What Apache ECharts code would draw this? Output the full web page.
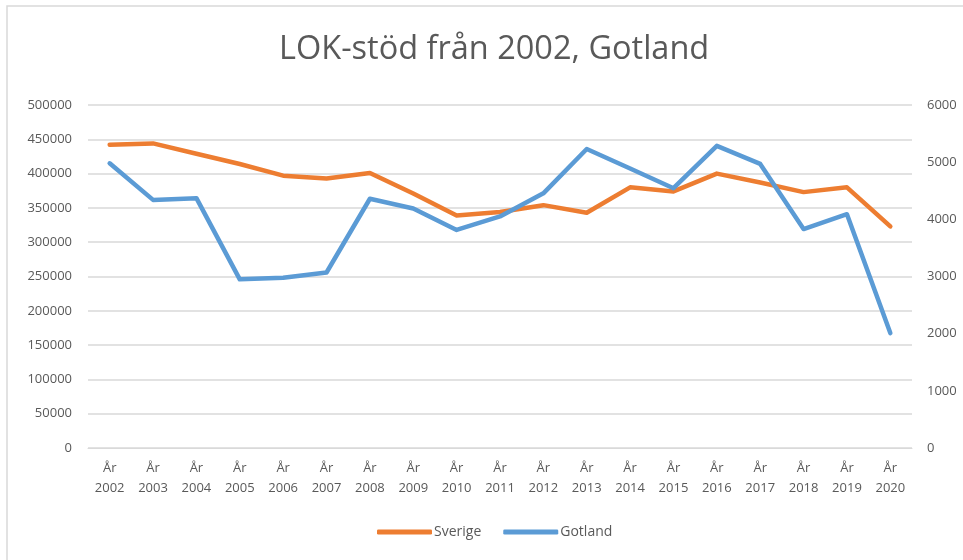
<!DOCTYPE html>
<html>
<head>
<meta charset="utf-8">
<script src="https://cdn.jsdelivr.net/npm/echarts@6/dist/echarts.min.js"></script>
<style>
  html, body { margin: 0; padding: 0; background: #fff; }
  #chart { width: 963px; height: 560px; }
</style>
</head>
<body>
<div id="chart"></div>
<script>
const years = ['2002', '2003', '2004', '2005', '2006', '2007', '2008', '2009', '2010', '2011',
  '2012', '2013', '2014', '2015', '2016', '2017', '2018', '2019', '2020']
const categories = years.map(y => 'År\n' + y)

// Sverige, left axis
const sverige = [442000, 444000, 429000, 414000, 397000, 393000, 401000, 371000, 339000, 344000,
  354000, 343000, 380000, 374000, 400000, 387000, 373000, 380000, 323000]
// Gotland, right axis
const gotland = [4980, 4340, 4370, 2950, 2980, 3070, 4360, 4190, 3815, 4050,
  4455, 5230, 4890, 4545, 5285, 4970, 3830, 4090, 2010]

const leftTicks = { min: 0, max: 500000, interval: 50000 }
const rightTicks = { min: 0, max: 6000, interval: 1000 }

const textColor = '#595959'
const font = 'Open Sans'

const chart = echarts.init(document.getElementById('chart'))
chart.setOption({
  animation: false,
  backgroundColor: '#fff',
  graphic: [{
    type: 'rect',
    shape: { x: 7, y: 6, width: 1000, height: 600 },
    style: { fill: 'none', stroke: '#d9d9d9', lineWidth: 1.5 },
    silent: true
  }],
  title: {
    text: 'LOK-stöd från 2002, Gotland',
    left: 274,
    top: 28,
    textStyle: { fontFamily: font, fontSize: 32.5, fontWeight: 'normal', color: textColor }
  },
  legend: {
    bottom: 16,
    left: 372,
    itemWidth: 55,
    itemHeight: 5,
    itemGap: 22,
    icon: 'roundRect',
    textStyle: { fontFamily: font, fontSize: 14, color: textColor, padding: [0, 0, 0, -3] },
    data: ['Sverige', 'Gotland']
  },
  grid: { left: 88, right: 51, top: 105, bottom: 112, containLabel: false },
  xAxis: {
    type: 'category',
    data: categories,
    boundaryGap: true,
    axisLine: { lineStyle: { color: '#d9d9d9' } },
    axisTick: { show: false },
    axisLabel: { interval: 0, color: textColor, fontFamily: font, fontSize: 13, lineHeight: 20, margin: 10 }
  },
  yAxis: [
    {
      type: 'value',
      min: leftTicks.min, max: leftTicks.max, interval: leftTicks.interval,
      axisLine: { show: false },
      axisTick: { show: false },
      splitLine: { lineStyle: { color: '#d9d9d9', width: 1.5 } },
      axisLabel: { color: textColor, fontFamily: font, fontSize: 13, margin: 16, formatter: v => String(v) }
    },
    {
      type: 'value',
      min: rightTicks.min, max: rightTicks.max, interval: rightTicks.interval,
      axisLine: { show: false },
      axisTick: { show: false },
      splitLine: { show: false },
      axisLabel: { color: textColor, fontFamily: font, fontSize: 13, margin: 15, formatter: v => String(v) }
    }
  ],
  series: [
    {
      name: 'Sverige',
      type: 'line',
      yAxisIndex: 0,
      data: sverige,
      symbol: 'none',
      color: '#ED7D31',
      lineStyle: { width: 4.5, cap: 'round', join: 'round' }
    },
    {
      name: 'Gotland',
      type: 'line',
      yAxisIndex: 1,
      data: gotland,
      symbol: 'none',
      color: '#5B9BD5',
      lineStyle: { width: 4.5, cap: 'round', join: 'round' }
    }
  ]
})
</script>
</body>
</html>
